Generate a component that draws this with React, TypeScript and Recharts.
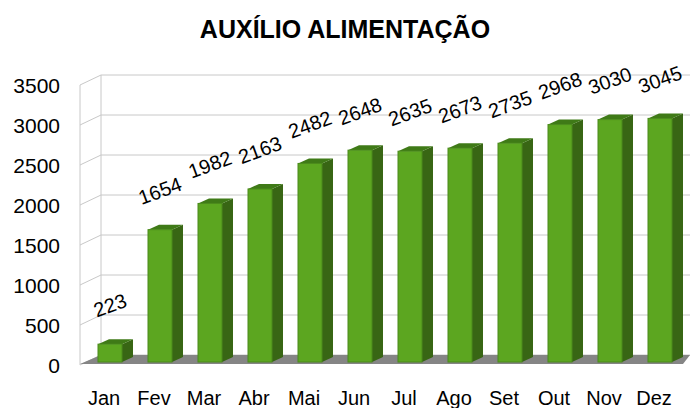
import { BarChart, Bar, XAxis, YAxis, CartesianGrid, LabelList } from "recharts";

const months = ["Jan", "Fev", "Mar", "Abr", "Mai", "Jun", "Jul", "Ago", "Set", "Out", "Nov", "Dez"];
const values = [223, 1654, 1982, 2163, 2482, 2648, 2635, 2673, 2735, 2968, 3030, 3045];
const yTicks = [0, 500, 1000, 1500, 2000, 2500, 3000, 3500];

const data = months.map((m, i) => ({ month: m, value: values[i] }));

const FONT = '"Liberation Sans", Arial, sans-serif';
// depth of the fake 3d bars
const DX = 11;
const DY = -5;

function Bar3D(props: any) {
  const { x, y, width, height } = props;
  if (height == null || isNaN(height)) return null;
  const r = x + width;
  return (
    <g>
      <polygon
        points={`${r},${y} ${r + DX},${y + DY} ${r + DX},${y + height + DY} ${r},${y + height}`}
        fill="#386614"
      />
      <polygon
        points={`${x},${y} ${x + DX},${y + DY} ${r + DX},${y + DY} ${r},${y}`}
        fill="#3f7a17"
      />
      <rect x={x} y={y} width={width} height={height} fill="#5ca620" stroke="#4a8a1a" strokeWidth={1} />
    </g>
  );
}

// back wall + left wall lines, floor drawn on the zero line
function WallLine(props: any) {
  const { x1, y1, x2, y, height } = props;
  const backX = x1 + 16;
  const isFloor = Math.abs(y1 - (y + height)) < 0.5;
  return (
    <g key={props.key}>
      {isFloor && (
        <>
          <line x1={x1 - 5} y1={y + 3} x2={x1 - 5} y2={y + height + 3} stroke="#c8c8c8" />
          <line x1={backX} y1={y - 7} x2={backX} y2={y + height - 7} stroke="#c8c8c8" />
        </>
      )}
      <line x1={x1 - 5} y1={y1 + 3} x2={backX} y2={y1 - 7} stroke="#c8c8c8" />
      <line x1={backX} y1={y1 - 7} x2={x2 + 5} y2={y1 - 7} stroke="#c8c8c8" />
      {isFloor && (
        <polygon
          points={`${x1 - 5},${y1 + 2} ${backX},${y1 - 7} ${x2 + 5},${y1 - 7} ${x2 - 2},${y1 + 2}`}
          fill="#858585"
        />
      )}
    </g>
  );
}

function MonthTick({ x, y, payload }: any) {
  return (
    <text x={x - 6} y={y + 35} textAnchor="middle" fontSize={20} fontFamily={FONT} fill="#000">
      {payload.value}
    </text>
  );
}

function ValueTick({ x, y, payload }: any) {
  return (
    <text x={x - 17} y={y + 3.5} dy="0.355em" textAnchor="end" fontSize={21} fontFamily={FONT} fill="#000">
      {payload.value}
    </text>
  );
}

function ValueLabel(props: any) {
  const { x, y, width, value } = props;
  const cx = x + width / 2;
  const cy = y - 39;
  return (
    <text
      x={cx}
      y={cy}
      dy="0.355em"
      textAnchor="middle"
      fontSize={20}
      fontFamily={FONT}
      fill="#000"
      transform={`rotate(-20, ${cx}, ${cy})`}
    >
      {value}
    </text>
  );
}

export default function App() {
  return (
    <div style={{ position: "absolute", left: 0, top: 0, width: 690, height: 408, background: "#fff" }}>
      <svg width={690} height={60} style={{ position: "absolute", left: 0, top: 0 }}>
        <text x={345} y={38} textAnchor="middle" fontSize={25} fontWeight="bold" fontFamily={FONT} fill="#000">
          AUXÍLIO ALIMENTAÇÃO
        </text>
      </svg>
      <div style={{ position: "absolute", left: 0, top: 0 }}>
        <BarChart width={690} height={408} data={data} margin={{ top: 82, right: 5, left: 0, bottom: 0 }}>
          <CartesianGrid vertical={false} horizontal={WallLine} />
          <XAxis dataKey="month" axisLine={false} tickLine={false} height={46} tick={MonthTick} interval={0} />
          <YAxis
            width={85}
            domain={[0, 3500]}
            ticks={yTicks}
            axisLine={false}
            tickLine={false}
            tick={ValueTick}
            interval={0}
          />
          <Bar dataKey="value" barSize={24} shape={Bar3D} isAnimationActive={false}>
            <LabelList dataKey="value" content={ValueLabel} />
          </Bar>
        </BarChart>
      </div>
    </div>
  );
}
